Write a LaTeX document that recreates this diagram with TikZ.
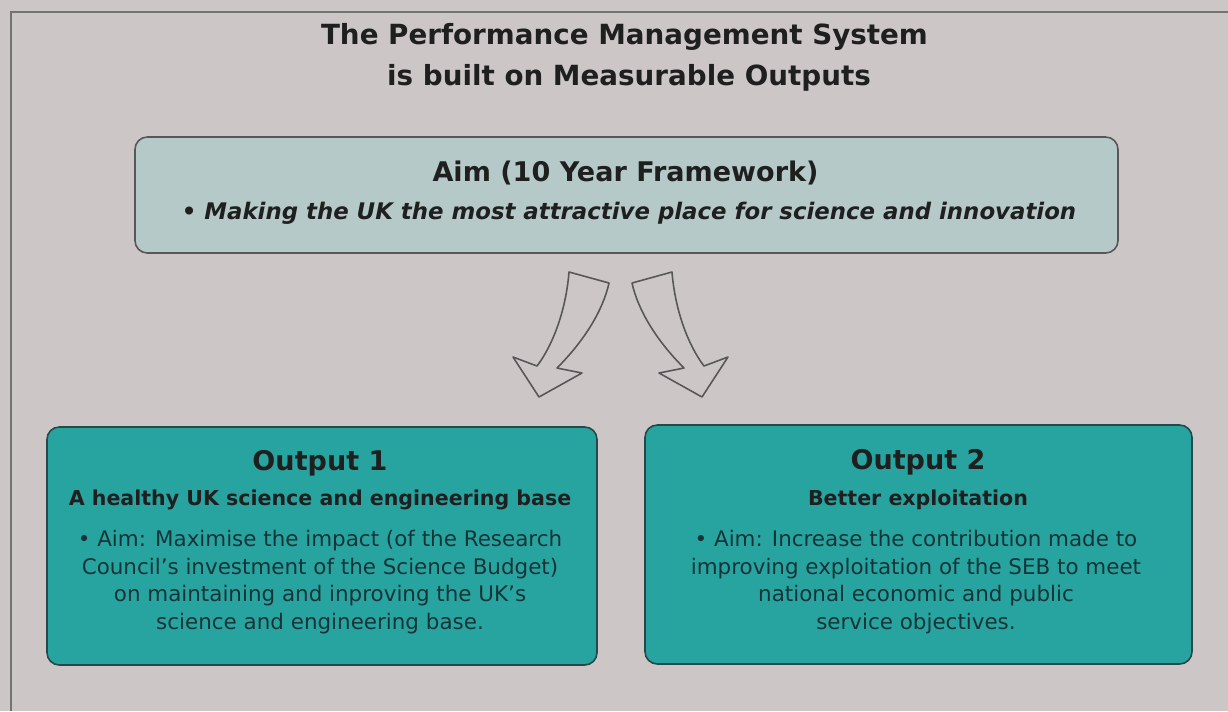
\documentclass[tikz,border=0pt]{standalone}
\usepackage{fontspec}
\setmainfont{DejaVu Sans}

\definecolor{paper}{RGB}{204,199,198}
\definecolor{aimfill}{RGB}{182,201,201}
\definecolor{outfill}{RGB}{40,164,160}
\definecolor{edge}{RGB}{88,86,88}
\definecolor{outedge}{RGB}{38,72,74}
\definecolor{bodytext}{RGB}{22,52,55}

\tikzset{
  frame/.style={draw=black!55, line width=1.2pt},
  aimbox/.style={draw=edge, fill=aimfill, line width=0.9pt, rounded corners=7pt},
  outbox/.style={draw=outedge, fill=outfill, line width=0.9pt, rounded corners=7pt},
  title/.style={font=\fontsize{15.8}{18}\selectfont\bfseries, text=black!88},
  heading/.style={font=\fontsize{15.4}{18}\selectfont\bfseries, text=black!88},
  aimline/.style={font=\fontsize{13}{15}\selectfont\bfseries\itshape, text=black!88},
  subhead/.style={font=\fontsize{11.7}{14}\selectfont\bfseries, text=black!88},
  body/.style={font=\fontsize{12.2}{15.8}\selectfont, text=bodytext, align=center},
  blockarrow/.style={draw=edge, fill=paper, line width=0.9pt, line join=round},
  % curved arrow, tail at the top, drawn left of x=0
  outarrow/.pic={
    \draw[blockarrow] (-51.5,272) .. controls (-54.5,310) and (-67.5,345) .. (-83.5,366)
      -- (-107.5,357) -- (-81.5,397) -- (-38.5,373) -- (-63.5,368)
      .. controls (-35.5,340) and (-17.5,310) .. (-11.5,283) -- cycle;
  }
}

\begin{document}
\begin{tikzpicture}[x=0.02cm, y=-0.02cm]
  \fill[paper] (0,0) rectangle (1228,711);
  \useasboundingbox (0,0) rectangle (1228,711);
  \draw[frame] (11,711) -- (11,12) -- (1228,12);

  % title
  \node[title] (title1) at (624.5,37) {The Performance Management System};
  \node[title] (title2) at (629,78) {is built on Measurable Outputs};

  % aim
  \draw[aimbox] (135,137) rectangle (1118,253);
  \node[heading] (aimhead) at (625.5,173) {Aim (10 Year Framework)};
  \node[aimline] (aimtext) at (629,213) {• Making the UK the most attractive place for science and innovation};

  % arrows down to the outputs
  \pic at (620.5,0) {outarrow};
  \pic[xscale=-1] at (620.5,0) {outarrow};

  % output 1
  \draw[outbox] (47,427) rectangle (597,665);
  \node[heading] (out1head) at (320,463) {Output 1};
  \node[subhead] (out1sub) at (320,500) {A healthy UK science and engineering base};
  \node[body] (out1text) at (320,582) {• Aim: Maximise the impact (of the Research\\
    Council’s investment of the Science Budget)\\
    on maintaining and inproving the UK’s\\
    science and engineering base.};

  % output 2
  \draw[outbox] (645,425) rectangle (1192,664);
  \node[heading] (out2head) at (918,462) {Output 2};
  \node[subhead] (out2sub) at (918,500) {Better exploitation};
  \node[body] (out2text) at (916,582) {• Aim: Increase the contribution made to\\
    improving exploitation of the SEB to meet\\
    national economic and public\\
    service objectives.};
\end{tikzpicture}
\end{document}
